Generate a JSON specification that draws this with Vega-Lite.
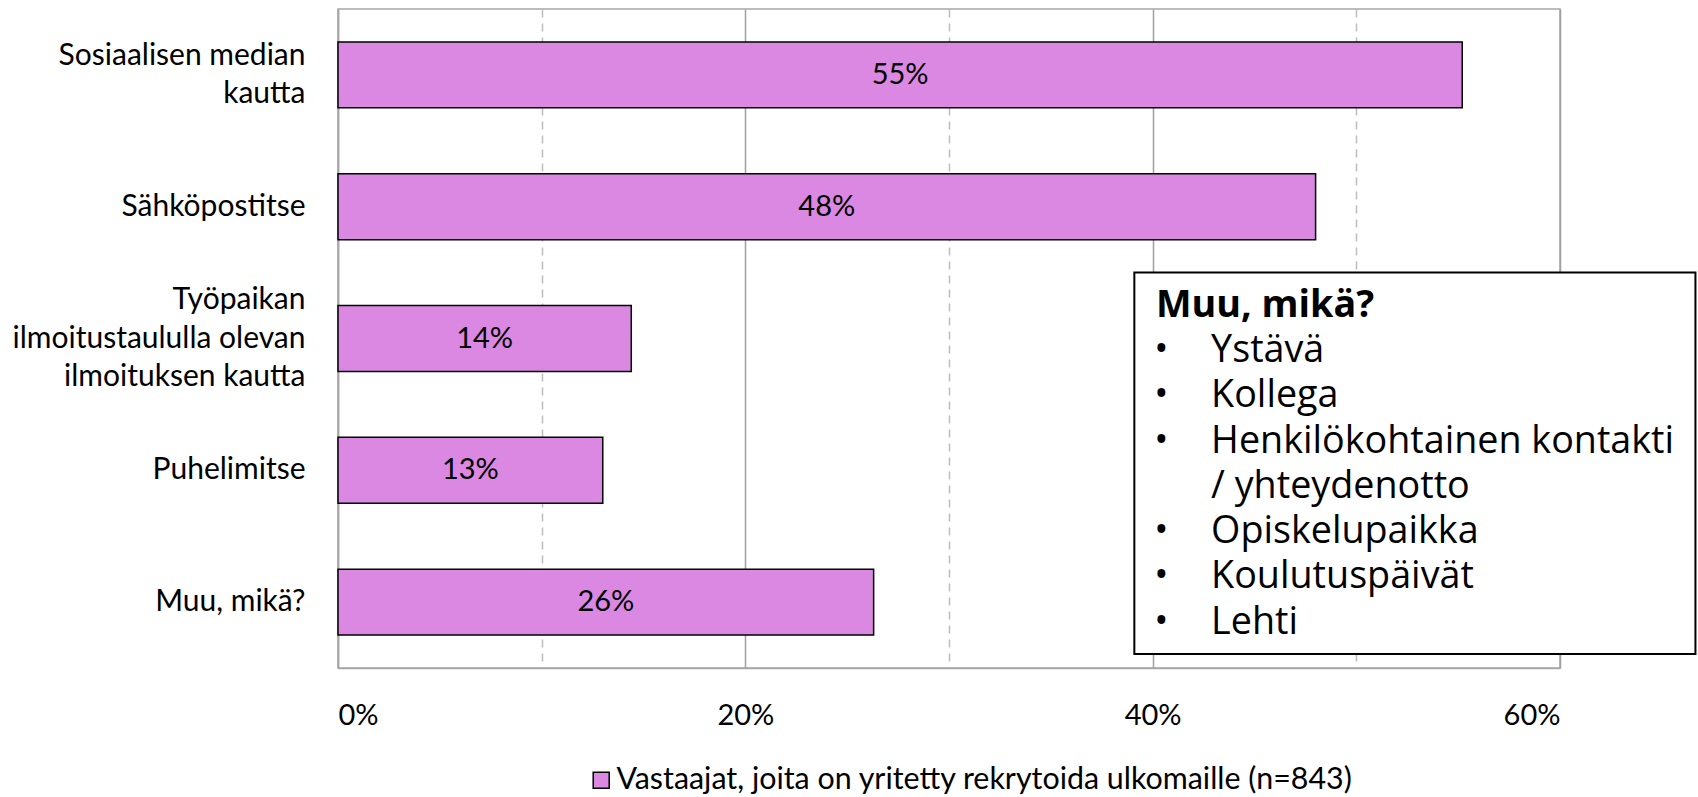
{
  "$schema": "https://vega.github.io/schema/vega-lite/v6.json",
  "width": 1222,
  "height": 659,
  "padding": {"left": 0, "top": 9, "right": 0, "bottom": 0},
  "background": "white",
  "config": {
    "view": {"stroke": "#a6a6a6", "strokeWidth": 1.5},
    "axis": {"labelColor": "black", "labelFont": "Lato", "labelFontSize": 29, "ticks": false, "title": null}
  },
  "data": {
    "values": [
      {"cat": "Sosiaalisen median|kautta", "value": 0.552, "series": "Vastaajat, joita on yritetty rekrytoida ulkomaille (n=843)"},
      {"cat": "Sähköpostitse", "value": 0.48, "series": "Vastaajat, joita on yritetty rekrytoida ulkomaille (n=843)"},
      {"cat": "Työpaikan|ilmoitustaululla olevan|ilmoituksen kautta", "value": 0.144, "series": "Vastaajat, joita on yritetty rekrytoida ulkomaille (n=843)"},
      {"cat": "Puhelimitse", "value": 0.13, "series": "Vastaajat, joita on yritetty rekrytoida ulkomaille (n=843)"},
      {"cat": "Muu, mikä?", "value": 0.263, "series": "Vastaajat, joita on yritetty rekrytoida ulkomaille (n=843)"}
    ]
  },
  "resolve": {"scale": {"x": "independent", "y": "independent"}, "axis": {"x": "independent", "y": "independent"}},
  "layer": [
    {
      "mark": {"type": "bar", "stroke": "black", "strokeWidth": 1.5},
      "encoding": {
        "y": {
          "field": "cat", "type": "nominal", "sort": null,
          "scale": {"paddingInner": 0.5, "paddingOuter": 0.25},
          "axis": {
            "labelExpr": "split(datum.label, '|')", "labelLineHeight": 38.5, "labelPadding": 33, "labelFontSize": 30,
            "labelOffset": {"condition": [
              {"test": "length(split(datum.label, '|')) == 3", "value": -38.5},
              {"test": "length(split(datum.label, '|')) == 2", "value": -19.25}
            ], "value": 0},
            "domainColor": "#a6a6a6", "domainWidth": 1.5, "minExtent": 338, "maxExtent": 338, "labelLimit": 400
          }
        },
        "x": {
          "field": "value", "type": "quantitative",
          "scale": {"domain": [0, 0.6], "nice": false},
          "axis": {"values": [0, 0.2, 0.4, 0.6], "format": ".0%", "grid": true, "gridColor": "#a0a0a0", "gridWidth": 1.5, "domainColor": "#a6a6a6", "domainWidth": 1.5, "labelPadding": 33}
        },
        "color": {
          "field": "series", "type": "nominal",
          "scale": {"range": ["#DB88E3"]},
          "legend": {"orient": "none", "legendX": 248, "legendY": 756, "title": null, "symbolType": "square", "symbolSize": 256, "symbolStrokeColor": "black", "symbolStrokeWidth": 1.5, "symbolOpacity": 1, "labelFont": "Lato", "labelFontSize": 30.4, "labelColor": "black", "labelOffset": 0, "labelLimit": 1000}
        }
      }
    },
    {
      "mark": {"type": "text", "font": "Lato", "fontSize": 29, "color": "black", "baseline": "middle", "align": "center"},
      "encoding": {
        "y": {"field": "cat", "type": "nominal", "sort": null, "axis": null},
        "x": {
          "field": "value", "type": "quantitative",
          "scale": {"domain": [0, 1.2], "nice": false},
          "axis": {"values": [0.2, 0.6, 1.0], "labels": false, "domain": false, "grid": true, "gridColor": "#bdbdbd", "gridWidth": 1.5, "gridDash": [8, 6]}
        },
        "text": {"field": "value", "type": "quantitative", "format": ".0%"}
      }
    },
    {
      "data": {"values": [{}]},
      "mark": {"type": "rect", "fill": "white", "stroke": "black", "strokeWidth": 2},
      "encoding": {
        "x": {"datum": 0.391, "type": "quantitative", "scale": {"domain": [0, 0.6], "nice": false}, "axis": null},
        "x2": {"datum": 0.6665},
        "y": {"datum": 2.0, "type": "quantitative", "scale": {"domain": [0, 5], "reverse": true, "nice": false, "zero": false}, "axis": null},
        "y2": {"datum": 4.894}
      }
    },
    {
      "data": {"values": [{}]},
      "mark": {"type": "text", "font": "Open Sans", "fontSize": 37.7, "fontWeight": "bold", "color": "black", "align": "left", "baseline": "alphabetic", "text": "Muu, mikä?"},
      "encoding": {
        "x": {"datum": 0.4016, "type": "quantitative", "scale": {"domain": [0, 0.6], "nice": false}, "axis": null},
        "y": {"datum": 2.337, "type": "quantitative", "scale": {"domain": [0, 5], "reverse": true, "nice": false, "zero": false}, "axis": null}
      }
    },
    {
      "data": {"values": [{}]},
      "mark": {"type": "text", "font": "Open Sans", "fontSize": 37.7, "color": "black", "align": "center", "baseline": "alphabetic", "lineHeight": 45.3, "text": ["•", "•", "•"]},
      "encoding": {
        "x": {"datum": 0.4042, "type": "quantitative", "scale": {"domain": [0, 0.6], "nice": false}, "axis": null},
        "y": {"datum": 2.678, "type": "quantitative", "scale": {"domain": [0, 5], "reverse": true, "nice": false, "zero": false}, "axis": null}
      }
    },
    {
      "data": {"values": [{}]},
      "mark": {"type": "text", "font": "Open Sans", "fontSize": 37.7, "color": "black", "align": "center", "baseline": "alphabetic", "lineHeight": 45.3, "text": ["•", "•", "•"]},
      "encoding": {
        "x": {"datum": 0.4042, "type": "quantitative", "scale": {"domain": [0, 0.6], "nice": false}, "axis": null},
        "y": {"datum": 4.053, "type": "quantitative", "scale": {"domain": [0, 5], "reverse": true, "nice": false, "zero": false}, "axis": null}
      }
    },
    {
      "data": {"values": [{}]},
      "mark": {"type": "text", "font": "Open Sans", "fontSize": 37.7, "color": "black", "align": "left", "baseline": "alphabetic", "lineHeight": 45.3, "text": ["Ystävä", "Kollega", "Henkilökohtainen kontakti", "/ yhteydenotto", "Opiskelupaikka", "Koulutuspäivät", "Lehti"]},
      "encoding": {
        "x": {"datum": 0.4287, "type": "quantitative", "scale": {"domain": [0, 0.6], "nice": false}, "axis": null},
        "y": {"datum": 2.678, "type": "quantitative", "scale": {"domain": [0, 5], "reverse": true, "nice": false, "zero": false}, "axis": null}
      }
    }
  ]
}
